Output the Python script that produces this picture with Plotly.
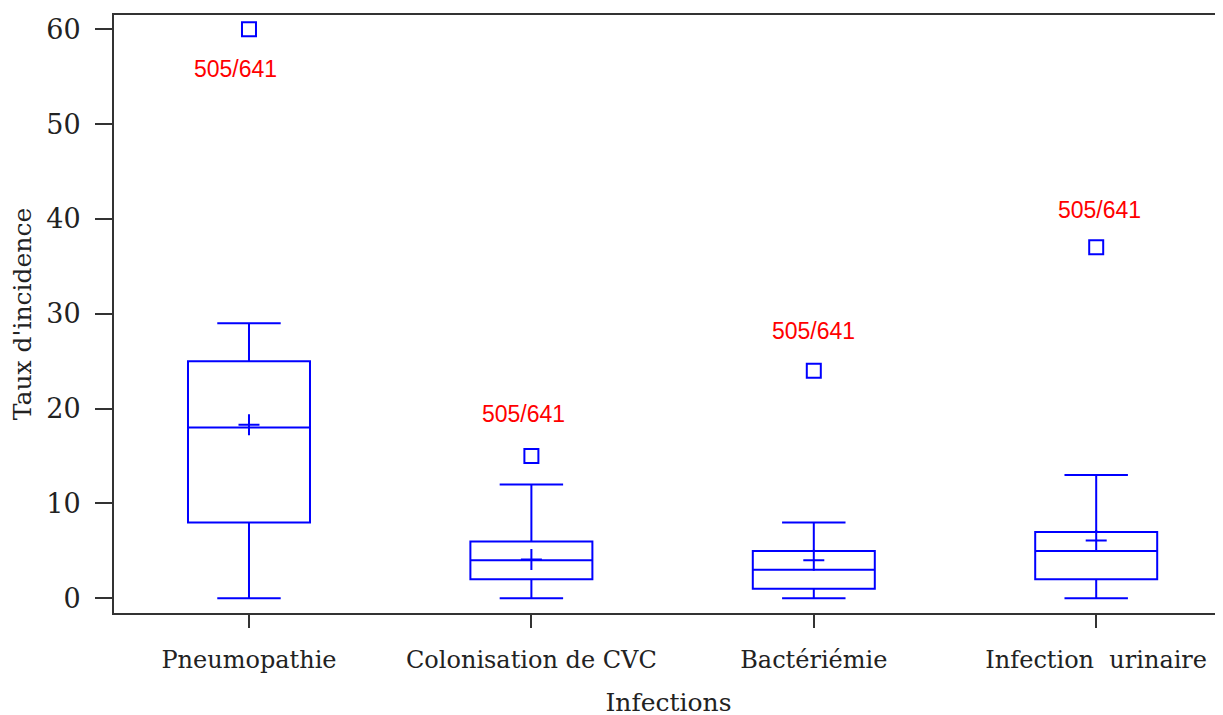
import plotly.graph_objects as go

categories = ["Pneumopathie", "Colonisation de CVC", "Bactériémie", "Infection  urinaire"]
lower_whisker = [0, 0, 0, 0]
q1_vals = [8, 2, 1, 2]
median_vals = [18, 4, 3, 5]
q3_vals = [25, 6, 5, 7]
upper_whisker = [29, 12, 8, 13]
mean_vals = [18.3, 4.1, 4.0, 6.1]
outlier_vals = [60, 15, 24, 37]
outlier_labels = ["505/641", "505/641", "505/641", "505/641"]
y_ticks = [0, 10, 20, 30, 40, 50, 60]

pos = list(range(len(categories)))
BLUE = "#0000FF"
AXC = "#333333"
SERIF = "DejaVu Serif"

fig = go.Figure()
fig.add_trace(go.Box(
    x=pos, q1=q1_vals, median=median_vals, q3=q3_vals,
    lowerfence=lower_whisker, upperfence=upper_whisker,
    boxpoints=False, width=0.432, whiskerwidth=0.52,
    line=dict(color=BLUE, width=2), fillcolor="rgba(0,0,0,0)",
    showlegend=False, hoverinfo="skip",
))
fig.add_trace(go.Scatter(
    x=pos, y=mean_vals, mode="markers",
    marker=dict(symbol="cross-thin", size=15, line=dict(color=BLUE, width=2), color=BLUE),
    showlegend=False,
))
fig.add_trace(go.Scatter(
    x=pos, y=outlier_vals, mode="markers",
    marker=dict(symbol="square-open", size=14, line=dict(color=BLUE, width=2), color=BLUE),
    showlegend=False,
))

label_style = [(-40, -13), (42, -8), (40, 0), (37, 3)]  # (yshift, xshift) in px
for p, v, t, (ys, xs) in zip(pos, outlier_vals, outlier_labels, label_style):
    fig.add_annotation(x=p, y=v, text=t, showarrow=False,
                       yshift=ys, xshift=xs,
                       font=dict(family="Liberation Sans", size=23, color="#FF0000"),
                       bgcolor="white")

fig.update_layout(
    width=1223, height=715,
    margin=dict(l=106, r=8, t=7, b=110),
    paper_bgcolor="white", plot_bgcolor="white",
    font=dict(family=SERIF, color="#222222"),
)
fig.update_xaxes(
    range=[-0.478, 3.449], tickvals=pos, ticktext=categories,
    showline=True, linecolor=AXC, linewidth=2, mirror=True,
    ticks="outside", ticklen=13, tickwidth=2, tickcolor=AXC,
    ticklabelstandoff=11, automargin=False,
    tickfont=dict(family=SERIF, size=24, color="#222222"),
    showgrid=False, zeroline=False,
    title=dict(text="Infections", font=dict(family=SERIF, size=25, color="#222222"), standoff=21),
)
fig.update_yaxes(
    range=[-1.55, 61.5], tickvals=y_ticks,
    showline=True, linecolor=AXC, linewidth=2,
    ticks="outside", ticklen=17, tickwidth=2, tickcolor=AXC,
    ticklabelstandoff=9, automargin=False,
    tickfont=dict(family=SERIF, size=27, color="#222222"),
    showgrid=False, zeroline=False,
    title=dict(text="Taux d'incidence", font=dict(family=SERIF, size=25, color="#222222"), standoff=7),
)
fig.write_html("out.html")
